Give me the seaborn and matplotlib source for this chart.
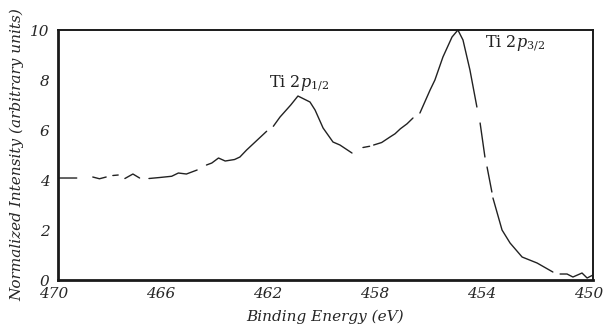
import numpy as np
import pandas as pd
import matplotlib
matplotlib.use("Agg")
import matplotlib.pyplot as plt
import matplotlib.transforms as mtransforms
import seaborn as sns
from matplotlib.ticker import MultipleLocator

# Binding energy (eV) and normalized intensity; NaN marks gaps in the printed trace
energy = [469.95, 469.3, np.nan,
          468.7, 468.45, 468.2, np.nan,
          467.95, 467.75, np.nan,
          467.5, 467.2, 466.95, np.nan,
          466.6, 466.2, 465.75, 465.5, 465.2, 464.8, np.nan,
          464.45, 464.25, 464.0, 463.75, 463.4, 463.2, 462.95, 462.7, 462.2, np.nan,
          461.95, 461.7, 461.3, 461.03, 460.58, 460.39, 460.09, 459.72, 459.46, 459.01, np.nan,
          458.6, 458.35, np.nan,
          458.2, 457.9, 457.59, 457.4, 457.2, 456.95, 456.73, np.nan,
          456.47, 456.09, 455.91, 455.61, 455.27, 455.05, 454.86, 454.6, 454.34, np.nan,
          454.22, 454.04, np.nan,
          453.96, 453.78, np.nan,
          453.74, 453.4, 453.1, 452.65, 452.09, 451.5, np.nan,
          451.23, 450.97, 450.75, 450.41, 450.22, 450.0]
intensity = [4.08, 4.08, np.nan,
             4.12, 4.05, 4.12, np.nan,
             4.18, 4.2, np.nan,
             4.06, 4.24, 4.08, np.nan,
             4.06, 4.1, 4.15, 4.28, 4.24, 4.4, np.nan,
             4.6, 4.68, 4.88, 4.76, 4.82, 4.92, 5.2, 5.45, 5.95, np.nan,
             6.15, 6.52, 7.0, 7.36, 7.12, 6.8, 6.08, 5.52, 5.4, 5.08, np.nan,
             5.3, 5.35, np.nan,
             5.4, 5.5, 5.72, 5.85, 6.05, 6.25, 6.48, np.nan,
             6.68, 7.6, 8.0, 8.92, 9.72, 10.0, 9.6, 8.4, 6.92, np.nan,
             6.28, 4.92, np.nan,
             4.52, 3.52, np.nan,
             3.28, 2.0, 1.48, 0.92, 0.68, 0.32, np.nan,
             0.24, 0.24, 0.12, 0.28, 0.08, 0.2]

x_ticks = [470, 466, 462, 458, 454, 450]
y_ticks = [0, 2, 4, 6, 8, 10]
peak_labels = [r"Ti 2$p_{1/2}$", r"Ti 2$p_{3/2}$"]
peak_pos = [(461.0, 7.85), (452.9, 9.45)]

sns.set_theme(style="white")
plt.rcParams["font.family"] = ["DejaVu Serif"]
plt.rcParams["mathtext.fontset"] = "dejavuserif"

df = pd.DataFrame({"energy": energy, "intensity": intensity})

fig = plt.figure(figsize=(6.03, 3.28), dpi=100)
ax = fig.add_axes([0.0962, 0.1463, 0.8872, 0.7622])

ax.plot(df["energy"], df["intensity"], color="#222222", lw=1.0)

ax.set_xlim(470, 450)
ax.set_ylim(0, 10)
ax.set_xticks(x_ticks)
ax.xaxis.set_minor_locator(MultipleLocator(2))
ax.set_yticks(y_ticks)
ax.yaxis.set_minor_locator(MultipleLocator(1))
ax.tick_params(axis="both", which="both", direction="in", color="#222222",
               labelsize=11, top=False, right=False)
ax.tick_params(axis="x", which="major", length=6, width=1.2, pad=5)
ax.tick_params(axis="x", which="minor", length=6, width=1.2)
ax.tick_params(axis="y", which="major", length=4, width=1.0, pad=6)
ax.tick_params(axis="y", which="minor", length=3, width=1.0)

shift = mtransforms.ScaledTranslation(-4 / 100, 0, fig.dpi_scale_trans)
for lab in ax.get_xticklabels():
    lab.set_fontstyle("italic")
    lab.set_transform(lab.get_transform() + shift)
for lab in ax.get_yticklabels():
    lab.set_fontstyle("italic")

for side in ["left", "bottom"]:
    ax.spines[side].set_linewidth(2.0)
    ax.spines[side].set_color("#1a1a1a")
for side in ["top", "right"]:
    ax.spines[side].set_linewidth(1.4)
    ax.spines[side].set_color("#1a1a1a")

ax.set_xlabel("Binding Energy (eV)", fontstyle="italic", fontsize=11, labelpad=6)
ax.set_ylabel("Normalized Intensity (arbitrary units)", fontstyle="italic",
              fontsize=11, labelpad=4)

for txt, (xx, yy) in zip(peak_labels, peak_pos):
    ax.text(xx, yy, txt, fontsize=11.5, ha="center", va="center", color="#222222")

fig.savefig("out.png", dpi=100)
